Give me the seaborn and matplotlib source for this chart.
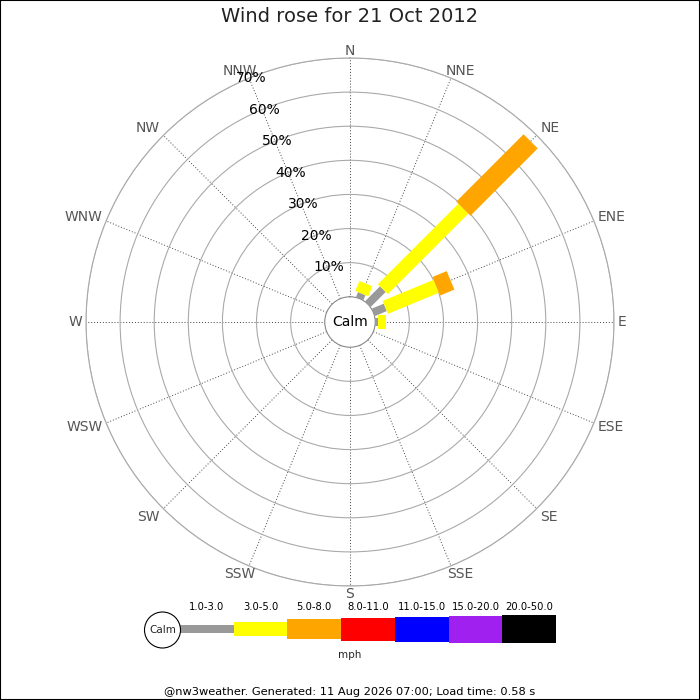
import numpy as np
import matplotlib
matplotlib.use("Agg")
import matplotlib.pyplot as plt
import seaborn as sns
from matplotlib.patches import Circle, Rectangle

# 16 compass directions, percent of observations per speed band
directions = ["N", "NNE", "NE", "ENE", "E", "ESE", "SE", "SSE",
              "S", "SSW", "SW", "WSW", "W", "WNW", "NW", "NNW"]
freq_1_3 = [0, 1.6, 6.2, 3.8, 0.8, 0, 0, 0, 0, 0, 0, 0, 0, 0, 0, 0]
freq_3_5 = [0, 3.2, 33.4, 16.2, 2.4, 0, 0, 0, 0, 0, 0, 0, 0, 0, 0, 0]
freq_5_8 = [0, 0, 27.9, 4.5, 0, 0, 0, 0, 0, 0, 0, 0, 0, 0, 0, 0]
freq_8_11 = [0] * 16
freq_11_15 = [0] * 16
freq_15_20 = [0] * 16
freq_20_50 = [0] * 16

band_labels = ["1.0-3.0", "3.0-5.0", "5.0-8.0", "8.0-11.0",
               "11.0-15.0", "15.0-20.0", "20.0-50.0"]
band_colors = ["#999999", "#ffff00", "#ffa500", "#ff0000",
               "#0000ff", "#a020f0", "#000000"]
band_px = [8, 14, 20, 23, 25, 27, 28]   # bar thickness in pixels
ring_ticks = [10, 20, 30, 40, 50, 60, 70]

bands = [freq_1_3, freq_3_5, freq_5_8, freq_8_11, freq_11_15, freq_15_20, freq_20_50]

sns.set_theme(style="white")
plt.rcParams["font.family"] = ["DejaVu Sans"]

fig = plt.figure(figsize=(7, 7), dpi=100)
fig.patch.set_facecolor("white")

# polar rose, centre at (350, 322) px, radius 264 px
ax = fig.add_axes([86 / 700, 114 / 700, 528 / 700, 528 / 700], projection="polar")
ax.set_theta_zero_location("N")
ax.set_theta_direction(-1)
ax.set_rorigin(-7.4)
ax.set_ylim(0, 70)

theta = np.deg2rad(np.arange(16) * 22.5)
ax.set_xticks(theta)
ax.set_xticklabels([])
ax.set_yticks(ring_ticks)
ax.set_yticklabels([])
ax.grid(axis="y", color="#aaaaaa", linewidth=0.8, linestyle="-")
ax.grid(axis="x", color="#444444", linewidth=0.7, linestyle=(0, (1, 2)))
ax.spines["polar"].set_color("#aaaaaa")
ax.spines["polar"].set_linewidth(0.8)
ax.spines["inner"].set_color("#888888")
ax.spines["inner"].set_linewidth(0.8)

# compass labels hang off the end of each spoke
for t, name in zip(theta, directions):
    s, c = np.sin(t), np.cos(t)
    side = np.sign(round(s, 3))
    if abs(c) > 0.99:        # N, S
        ha, dx = "center", 0
    elif abs(c) > 0.9:       # NNE, SSE, ...
        ha, dx = "center", 9 * side
    else:
        ha, dx = ("left" if side > 0 else "right"), 3.5 * side
    if abs(c) < 0.01:
        va, dy = "center", 0
    elif abs(c) < 0.5:       # ENE, ESE, ...
        va, dy = "center", 4 * np.sign(c)
    elif c > 0:
        va, dy = "bottom", 0
    else:
        va, dy = "top", -1
    ax.annotate(name, xy=(t, 70), xytext=(dx, dy), textcoords="offset pixels",
                ha=ha, va=va, fontsize=10, color="#555555", annotation_clip=False)

# stacked bars as thick lines of constant pixel width
cum = np.zeros(16)
for vals, color, px in zip(bands, band_colors, band_px):
    vals = np.array(vals, dtype=float)
    for i in range(16):
        if vals[i] > 0:
            ax.plot([theta[i], theta[i]], [cum[i], cum[i] + vals[i]],
                    color=color, linewidth=px * 72 / 100,
                    solid_capstyle="butt", zorder=3)
    cum += vals

for r in ring_ticks:
    ax.annotate(f"{r}%", xy=(np.deg2rad(-22.5), r), xytext=(2, 0),
                textcoords="offset pixels", ha="center", va="center",
                fontsize=10, color="black", zorder=4, annotation_clip=False)
ax.text(0.5, 0.5, "Calm", transform=ax.transAxes, ha="center", va="center",
        fontsize=10, color="black")

fig.text(0.5, 1 - 17 / 700, "Wind rose for 21 Oct 2012", ha="center", va="center",
         fontsize=14, color="#222222")

# legend strip, data units are pixels
lax = fig.add_axes([140 / 700, 1 - 665 / 700, 420 / 700, 70 / 700])
lax.set_xlim(140, 560)
lax.set_ylim(665, 595)
lax.set_axis_off()
seg_w = (556 - 180) / 7
lefts = 180 + seg_w * np.arange(7)
lax.bar(lefts, [-h for h in band_px], width=seg_w, bottom=[629 + h / 2 for h in band_px],
        color=band_colors, align="edge", linewidth=0)
for x, lab in zip(lefts, band_labels):
    lax.text(x + seg_w / 2, 607.5, lab, ha="center", va="center", fontsize=7.2, color="black")
lax.add_patch(Circle((162.5, 630), 18, facecolor="white", edgecolor="black", linewidth=0.8))
lax.text(162.5, 630, "Calm", ha="center", va="center", fontsize=7.5)
lax.text(350, 654.5, "mph", ha="center", va="center", fontsize=7.5)

fig.text(0.5, 1 - 692 / 700, "@nw3weather. Generated: 11 Aug 2026 07:00; Load time: 0.58 s",
         ha="center", va="center", fontsize=8.2, color="black")

fig.patches.append(Rectangle((0, 0), 1, 1, transform=fig.transFigure, fill=False,
                             edgecolor="black", linewidth=1.5))

fig.savefig("out.png", dpi=100)
